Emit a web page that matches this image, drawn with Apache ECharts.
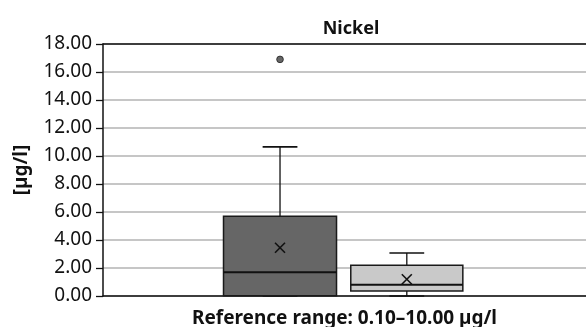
<!DOCTYPE html>
<html lang="en">
<head>
    <meta charset="UTF-8">
    <title>Nickel</title>
    <script src="https://cdn.jsdelivr.net/npm/echarts@6/dist/echarts.min.js"></script>
    <style>
        *{margin:0;padding:0;}
        body,html{width:100%;height:100%;overflow:hidden;background:#fff;}
        .box{width:586px;height:327px;}
    </style>
</head>
<body>
<div class="box"></div>
<script>
    // data
    let groups = ['Group A', 'Group B'];
    let mins = [0.00, 0.00];
    let q1s = [0.02, 0.35];
    let medians = [1.70, 0.80];
    let q3s = [5.70, 2.20];
    let maxs = [10.65, 3.07];
    let means = [3.45, 1.20];
    let outliers = [[16.90], []];
    let yTicks = [0, 18, 2];

    let fills = ['#666666', '#c9c9c9'];
    let offsets = [-0.1335, 0.129];   // fraction of band
    let widths = [0.234, 0.232];

    let myChart = echarts.init(document.querySelector('.box'));

    function makeRender(i) {
        return function (params, api) {
            let band = api.size([1, 0])[0];
            let cx = api.coord([0, 0])[0] + offsets[i] * band;
            let w = widths[i] * band;
            let cap = 0.072 * band;
            let y = v => api.coord([0, v])[1];
            let yMin = y(mins[i]), yQ1 = y(q1s[i]), yMed = y(medians[i]),
                yQ3 = y(q3s[i]), yMax = y(maxs[i]), yMean = y(means[i]);
            let line = (x1, y1, x2, y2, lw) => ({
                type: 'line',
                shape: {x1, y1, x2, y2},
                style: {stroke: '#111', lineWidth: lw || 1.3}
            });
            let children = [
                line(cx, yQ3, cx, yMax),
                line(cx - cap / 2, yMax, cx + cap / 2, yMax, 1.6),
                line(cx, yQ1, cx, yMin),
                line(cx - cap / 2, yMin, cx + cap / 2, yMin, 1.6),
                {
                    type: 'rect',
                    shape: {x: cx - w / 2, y: yQ3, width: w, height: yQ1 - yQ3},
                    style: {fill: fills[i], stroke: '#1a1a1a', lineWidth: 1.5}
                },
                line(cx - w / 2, yMed, cx + w / 2, yMed, 2),
                line(cx - 5, yMean - 5, cx + 5, yMean + 5, 1.6),
                line(cx - 5, yMean + 5, cx + 5, yMean - 5, 1.6)
            ];
            outliers[i].forEach(v => {
                children.push({
                    type: 'circle',
                    shape: {cx: cx, cy: y(v), r: 3.3},
                    style: {fill: '#666', stroke: '#333', lineWidth: 1}
                });
            });
            return {type: 'group', children};
        };
    }

    let series = groups.map((g, i) => ({
        name: g,
        type: 'custom',
        xAxisIndex: 0,
        renderItem: makeRender(i),
        encode: {x: 0, y: [1, 2, 3, 4, 5]},
        data: [[0, mins[i], q1s[i], medians[i], q3s[i], maxs[i]]],
        z: 3
    }));

    let option = {
        animation: false,
        title: {
            text: 'Nickel',
            left: 346,
            top: 15,
            textAlign: 'center',
            textStyle: {fontFamily: 'Noto Sans', fontSize: 18, fontWeight: 'bold', color: '#111'}
        },
        grid: {left: 103, right: 0, top: 44, bottom: 31, outerBoundsMode: 'none', containLabel: false},
        xAxis: [{
            type: 'category',
            data: [''],
            axisLine: {lineStyle: {color: '#111', width: 1.5}},
            axisTick: {show: false},
            axisLabel: {show: false},
            name: 'Reference range: 0.10–10.00 µg/l',
            nameLocation: 'middle',
            nameGap: 13,
            nameTextStyle: {
                fontFamily: 'Noto Sans', fontSize: 19, fontWeight: 'bold', color: '#111'
            }
        }, {
            type: 'category',
            position: 'top',
            data: [''],
            axisLine: {lineStyle: {color: '#111', width: 1.5}},
            axisTick: {show: false},
            axisLabel: {show: false}
        }],
        yAxis: {
            type: 'value',
            min: yTicks[0],
            max: yTicks[1],
            interval: yTicks[2],
            name: '[µg/l]',
            nameLocation: 'middle',
            nameGap: 72,
            nameRotate: 90,
            nameTextStyle: {fontFamily: 'Noto Sans', fontSize: 19, fontWeight: 'bold', color: '#111'},
            axisLine: {show: true, lineStyle: {color: '#111', width: 1.5}},
            axisTick: {show: true, length: 7, lineStyle: {color: '#111', width: 1.3}},
            axisLabel: {
                fontFamily: 'Noto Sans', fontSize: 19, color: '#111', margin: 11,
                formatter: v => v.toFixed(2)
            },
            splitLine: {lineStyle: {color: '#b3b3b3', width: 1.5}}
        },
        series
    };

    myChart.setOption(option);
</script>
</body>
</html>
